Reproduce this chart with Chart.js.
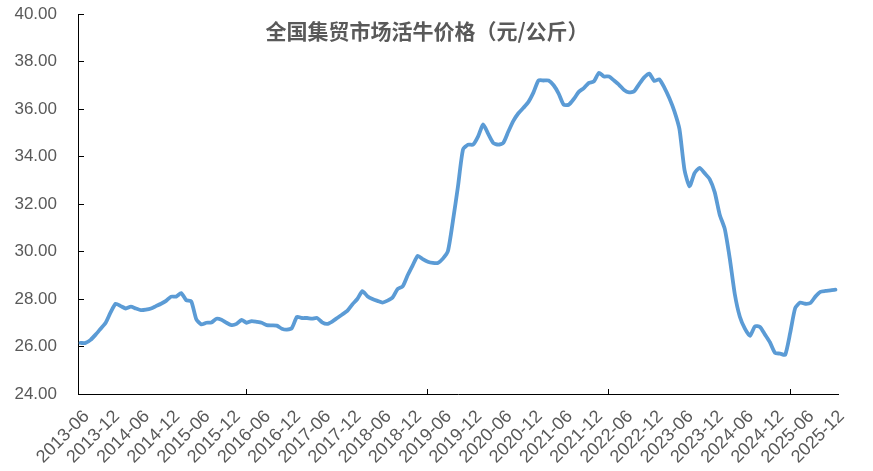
<!DOCTYPE html>
<html>
<head>
<meta charset="utf-8">
<script src="https://cdn.jsdelivr.net/npm/chart.js@4"></script>
<style>
  html, body { margin: 0; padding: 0; background: #fff; }
  #wrap { width: 873px; height: 471px; }
</style>
</head>
<body>
<div id="wrap"><canvas id="line-chart"></canvas></div>
<script>
// title and data
var chartTitle = "全国集贸市场活牛价格（元/公斤）";

// months 2013-06 .. 2025-12
var months = [];
for (var y = 2013; y <= 2025; y++) {
  for (var m = (y === 2013 ? 6 : 1); m <= 12; m++) {
    months.push(y + "-" + (m < 10 ? "0" + m : m));
  }
}

var prices = [
  26.15, 26.15, 26.28, 26.50, 26.75, 27.00, 27.45, 27.80, 27.70, 27.60,
  27.68, 27.60, 27.53, 27.55, 27.60, 27.70, 27.80, 27.92, 28.10, 28.10,
  28.25, 27.95, 27.90, 27.15, 26.93, 27.00, 27.01, 27.17, 27.13, 27.00,
  26.90, 26.95, 27.12, 27.00, 27.07, 27.04, 27.00, 26.90, 26.89, 26.88,
  26.75, 26.71, 26.78, 27.25, 27.20, 27.20, 27.17, 27.20, 27.02, 26.95,
  27.05, 27.20, 27.35, 27.50, 27.77, 28.00, 28.33, 28.12, 28.00, 27.92,
  27.85, 27.93, 28.06, 28.42, 28.53, 29.00, 29.42, 29.82, 29.68, 29.57,
  29.52, 29.52, 29.70, 30.02, 31.30, 32.75, 34.30, 34.50, 34.50, 34.85,
  35.35, 34.95, 34.57, 34.50, 34.57, 35.05, 35.50, 35.82, 36.05, 36.30,
  36.70, 37.20, 37.20, 37.20, 37.00, 36.65, 36.18, 36.18, 36.42, 36.72,
  36.88, 37.10, 37.16, 37.52, 37.37, 37.37, 37.20, 37.02, 36.80, 36.70,
  36.75, 37.05, 37.33, 37.49, 37.18, 37.25, 36.90, 36.45, 35.90, 35.15,
  33.44, 32.74, 33.30, 33.52, 33.30, 33.05, 32.50, 31.55, 30.95, 29.70,
  28.20, 27.25, 26.75, 26.45, 26.85, 26.82, 26.50, 26.17, 25.73, 25.70,
  25.65, 26.57, 27.62, 27.85, 27.80, 27.83, 28.10, 28.30, 28.34, 28.36,
  28.39
];

var yMin = 24, yMax = 40, yStep = 2;

var fontFamily = "'Liberation Sans', Arial, sans-serif";

// title drawn over the plot, like the original
var titlePlugin = {
  id: "overlayTitle",
  afterDraw: function (chart) {
    var c = chart.ctx;
    c.save();
    c.font = "bold 21px 'Noto Sans CJK SC', sans-serif";
    c.fillStyle = "#595959";
    c.textAlign = "center";
    c.textBaseline = "middle";
    c.fillText(chartTitle, 427, 31);
    c.restore();
  }
};

var ctxLine = document.getElementById("line-chart");

var chartGraph = new Chart(ctxLine, {
  type: "line",
  data: {
    labels: months,
    datasets: [
      {
        label: chartTitle,
        data: prices,
        borderColor: "#5B9BD5",
        backgroundColor: "transparent",
        borderWidth: 3.8,
        borderCapStyle: "round",
        borderJoinStyle: "round",
        pointRadius: 0,
        tension: 0.2
      }
    ]
  },
  options: {
    responsive: true,
    maintainAspectRatio: false,
    animation: false,
    layout: { padding: { top: 14, right: 35, left: 0, bottom: 0 } },
    plugins: {
      legend: { display: false },
      title: { display: false },
      tooltip: { enabled: false }
    },
    scales: {
      x: {
        type: "category",
        offset: true,
        border: { display: true, color: "#000", width: 1 },
        grid: {
          offset: true,
          drawOnChartArea: false,
          tickLength: -5,
          color: function (c) {
            return (c.index !== undefined && c.index % 6 === 0) ? "#000" : "transparent";
          }
        },
        ticks: {
          autoSkip: false,
          minRotation: 45,
          maxRotation: 45,
          padding: 17,
          labelOffset: 6,
          color: "#595959",
          font: { family: fontFamily, size: 18 },
          callback: function (value, index) {
            return index % 6 === 0 ? this.getLabelForValue(value) : null;
          }
        },
        afterFit: function (scale) { scale.height = 77; }
      },
      y: {
        min: yMin,
        max: yMax,
        border: { display: true, color: "#000", width: 1 },
        grid: {
          drawOnChartArea: false,
          tickLength: -6,
          color: "#000"
        },
        ticks: {
          stepSize: yStep,
          padding: 27,
          color: "#595959",
          font: { family: fontFamily, size: 17 },
          callback: function (v) { return v.toFixed(2); }
        },
        afterFit: function (scale) {
          scale.width = 78;
          scale.paddingTop = 0;
          scale.paddingBottom = 0;
        }
      }
    }
  },
  plugins: [titlePlugin]
});
</script>
</body>
</html>
